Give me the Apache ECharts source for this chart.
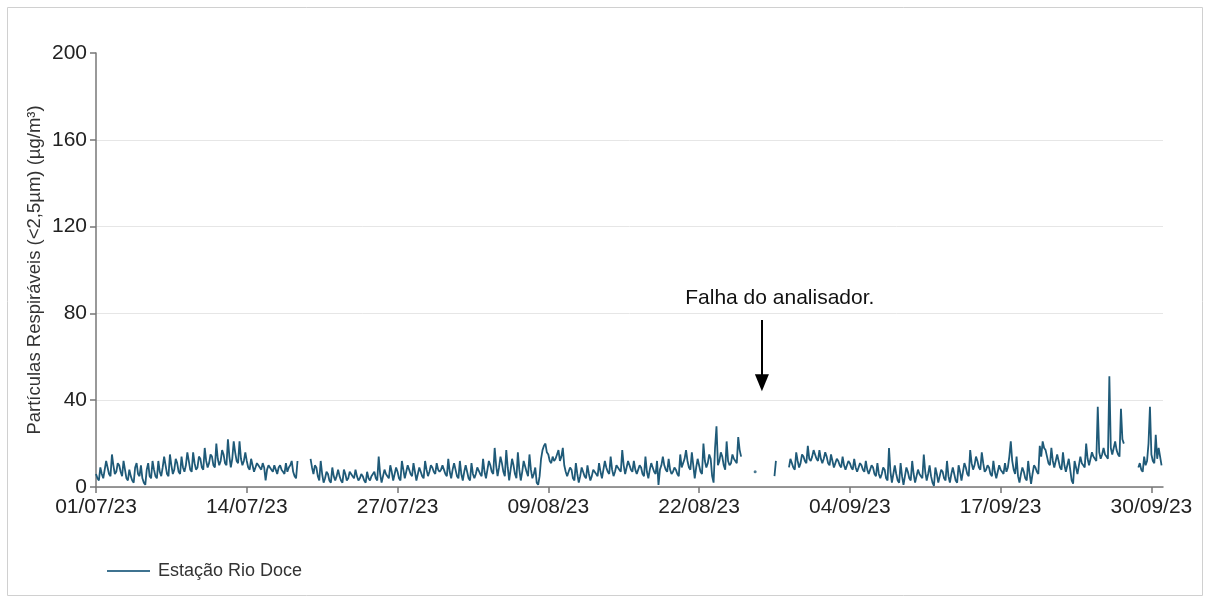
<!DOCTYPE html>
<html><head><meta charset="utf-8">
<script src="https://cdn.jsdelivr.net/npm/echarts@6/dist/echarts.min.js"></script>
<style>html,body{margin:0;padding:0;background:#fff}#c{width:1211px;height:603px}</style>
</head><body><div id="c"></div>
<script>
// Hours counted from 01/07/23 00:00; one reading every 3 hours (00,03,06,09,12,15,18,21)
const stepHours = 3;
const seriesName = 'Estação Rio Doce';
const pm25 = [
  6, 4, 3, 9, 6, 4, 8, 12,          // 01/07
  9, 6, 5, 15, 10, 6, 7, 11,        // 02/07
  10, 7, 5, 12, 8, 4, 3, 8,         // 03/07
  5, 3, 2, 9, 11, 6, 5, 10,         // 04/07
  4, 2, 1, 8, 11, 5, 4, 12,         // 05/07
  8, 5, 4, 12, 7, 5, 9, 14,         // 06/07
  10, 6, 5, 15, 10, 6, 8, 13,       // 07/07
  11, 7, 6, 14, 9, 7, 10, 16,       // 08/07
  12, 8, 7, 16, 11, 8, 9, 14,       // 09/07
  13, 9, 8, 18, 12, 9, 11, 15,      // 10/07
  14, 10, 9, 20, 13, 10, 12, 17,    // 11/07
  15, 11, 10, 22, 14, 9, 13, 21,    // 12/07
  16, 12, 11, 21, 13, 10, 12, 16,   // 13/07
  12, 9, 8, 13, 10, 7, 9, 11,       // 14/07
  10, 9, 8, 11, 9, 3, 8, 10,        // 15/07
  9, 8, 7, 10, 8, 6, 9, 10,         // 16/07
  8, 7, 6, 11, 7, 9, 10, 12,        // 17/07
  7, 5, 4, 12, null, null, null, null,   // 18/07
  null, null, null, null, 13, 9, 6, 10,  // 19/07
  9, 5, 3, 12, 6, 2, 4, 7,          // 20/07
  6, 3, 2, 9, 5, 3, 5, 8,           // 21/07
  5, 3, 2, 8, 6, 3, 4, 7,           // 22/07
  6, 5, 4, 8, 5, 3, 4, 6,           // 23/07
  5, 3, 2, 7, 4, 3, 5, 6,           // 24/07
  7, 4, 3, 14, 6, 2, 5, 8,          // 25/07
  6, 5, 4, 10, 7, 3, 6, 9,          // 26/07
  7, 4, 3, 12, 8, 4, 7, 10,         // 27/07
  8, 6, 5, 11, 7, 3, 6, 9,          // 28/07
  7, 5, 4, 12, 8, 5, 7, 10,         // 29/07
  9, 7, 6, 11, 8, 7, 8, 10,         // 30/07
  8, 6, 5, 13, 7, 4, 8, 11,         // 31/07
  8, 5, 4, 12, 6, 3, 7, 10,         // 01/08
  7, 4, 3, 11, 6, 4, 6, 9,          // 02/08
  9, 6, 5, 13, 7, 4, 8, 12,         // 03/08
  10, 7, 6, 18, 10, 5, 9, 14,       // 04/08
  11, 7, 5, 17, 9, 3, 8, 13,        // 05/08
  10, 6, 4, 16, 8, 3, 7, 12,        // 06/08
  12, 7, 5, 15, 8, 4, 6, 9,         // 07/08
  2, 1, 5, 13, 17, 19, 20, 16,      // 08/08
  15, 12, 11, 14, 12, 13, 15, 17,   // 09/08
  12, 14, 18, 10, 7, 5, 7, 9,       // 10/08
  8, 4, 3, 11, 6, 2, 5, 9,          // 11/08
  7, 5, 4, 10, 6, 3, 5, 8,          // 12/08
  8, 6, 5, 11, 7, 4, 8, 12,         // 13/08
  9, 7, 6, 14, 8, 5, 7, 10,         // 14/08
  9, 8, 7, 17, 10, 6, 9, 12,        // 15/08
  10, 8, 7, 12, 8, 6, 8, 10,        // 16/08
  9, 6, 5, 14, 7, 4, 8, 11,         // 17/08
  9, 7, 6, 12, 1, 8, 10, 14,        // 18/08
  10, 8, 7, 13, 8, 6, 7, 9,         // 19/08
  8, 6, 5, 15, 9, 11, 13, 17,       // 20/08
  12, 9, 8, 16, 10, 4, 9, 13,       // 21/08
  10, 7, 6, 20, 12, 9, 11, 15,      // 22/08
  13, 5, 2, 18, 28, 10, 12, 16,     // 23/08
  14, 10, 8, 21, 12, 10, 11, 15,    // 24/08
  13, 12, 11, 23, 17, 14, null, null,          // 25/08
  null, null, null, null, null, null, null, null, // 26/08
  null, null, null, null, null, null, null, null, // 27/08
  null, null, null, null, 5, 12, null, null,   // 28/08
  null, null, null, null, null, null, 9, 13,   // 29/08
  11, 9, 8, 16, 12, 9, 11, 15,      // 30/08
  14, 12, 11, 19, 13, 12, 14, 17,   // 31/08
  15, 13, 12, 17, 13, 11, 13, 16,   // 01/09
  14, 11, 10, 15, 12, 9, 11, 13,    // 02/09
  12, 10, 9, 14, 10, 8, 10, 12,     // 03/09
  11, 9, 8, 13, 9, 7, 9, 11,        // 04/09
  10, 8, 7, 12, 8, 6, 8, 10,        // 05/09
  9, 6, 5, 11, 6, 4, 6, 9,          // 06/09
  8, 4, 3, 18, 7, 2, 6, 10,         // 07/09
  6, 3, 2, 11, 5, 1, 5, 9,          // 08/09
  7, 4, 3, 12, 6, 2, 5, 8,          // 09/09
  6, 5, 4, 15, 7, 3, 6, 10,         // 10/09
  5, 2, 0.5, 9, 6, 2, 5, 8,         // 11/09
  7, 4, 3, 12, 5, 2, 6, 9,          // 12/09
  6, 3, 2, 10, 7, 3, 7, 11,         // 13/09
  9, 6, 5, 17, 11, 8, 10, 14,       // 14/09
  12, 9, 8, 16, 11, 7, 8, 10,       // 15/09
  9, 6, 5, 12, 7, 4, 7, 10,         // 16/09
  8, 7, 6, 11, 7, 9, 14, 21,        // 17/09
  12, 8, 6, 14, 5, 2, 6, 9,         // 18/09
  7, 4, 3, 12, 6, 1.5, 6, 10,       // 19/09
  9, 7, 6, 19, 14, 21, 18, 17,      // 20/09
  14, 11, 10, 18, 12, 9, 12, 15,    // 21/09
  12, 9, 8, 16, 10, 7, 10, 13,      // 22/09
  8, 3, 1.5, 12, 9, 6, 10, 14,      // 23/09
  11, 10, 9, 20, 13, 10, 13, 16,    // 24/09
  14, 13, 12, 37, 16, 13, 15, 18,   // 25/09
  15, 14, 13, 51, 18, 15, 18, 21,   // 26/09
  17, 15, 14, 36, 22, 20, null, null,          // 27/09
  null, null, null, null, null, null, null, 9, // 28/09
  11, 8, 7, 14, 10, 12, 20, 37,     // 29/09
  15, 12, 11, 24, 13, 18, 14, 10    // 30/09
];
// isolated single reading during the analyser failure: [hour, value]
const isolatedReadings = [[1364, 7]];

const xTickHours = [0, 312, 624, 936, 1248, 1560, 1872, 2184];
const xTickLabels = ['01/07/23', '14/07/23', '27/07/23', '09/08/23', '22/08/23', '04/09/23', '17/09/23', '30/09/23'];
const xMaxHour = 2208;
const yMin = 0, yMax = 200, yStep = 40;
const yTitle = 'Partículas Respiráveis (<2,5µm) (µg/m³)';
const noteText = 'Falha do analisador.';
const notePoint = [1415, 87];
const arrowFrom = [1378, 77];
const arrowTo = [1378, 48];

const lineColor = '#1f5a78';
const font = "'Liberation Sans', Arial, sans-serif";
const data = pm25.map((v, i) => [i * stepHours, v]);

const chart = echarts.init(document.getElementById('c'), null, {renderer: 'canvas'});
chart.setOption({
  animation: false,
  backgroundColor: '#fff',
  textStyle: {fontFamily: font},
  graphic: [{
    type: 'rect', silent: true,
    shape: {x: 7.5, y: 7.5, width: 1195, height: 588},
    style: {fill: 'none', stroke: '#d0d0d0', lineWidth: 1}
  }],
  grid: {left: 96, right: 48, top: 53, bottom: 116, containLabel: false},
  legend: {
    data: [{name: seriesName, icon: 'rect'}], left: 102, top: 557, itemWidth: 43, itemHeight: 2,
    itemStyle: {color: '#3f7390'},
    textStyle: {fontFamily: font, fontSize: 18, color: '#333', padding: [0, 0, 0, 3]}
  },
  xAxis: {
    type: 'value', min: 0, max: xMaxHour,
    axisLine: {show: true, lineStyle: {color: '#777', width: 1.5}},
    axisTick: {show: true, length: 6, lineStyle: {color: '#777', width: 1.5}, customValues: xTickHours},
    axisLabel: {
      customValues: xTickHours, margin: 10, fontSize: 21, color: '#222', fontFamily: font,
      formatter: v => { const i = xTickHours.indexOf(v); return i >= 0 ? xTickLabels[i] : ''; }
    },
    splitLine: {show: false}
  },
  yAxis: {
    type: 'value', min: yMin, max: yMax, interval: yStep,
    name: yTitle, nameLocation: 'middle', nameGap: 52, nameMoveOverlap: false,
    nameTextStyle: {fontFamily: font, fontSize: 18.5, color: '#333'},
    axisLine: {show: true, lineStyle: {color: '#777', width: 1.5}},
    axisTick: {show: true, length: 6, lineStyle: {color: '#777', width: 1.5}},
    axisLabel: {margin: 9, fontSize: 21, color: '#222', fontFamily: font},
    splitLine: {show: true, showMaxLine: false, lineStyle: {color: '#e6e6e6', width: 1}}
  },
  series: [
    {
      name: seriesName, type: 'line', data: data, symbol: 'none', connectNulls: false,
      lineStyle: {color: lineColor, width: 1.8}, itemStyle: {color: lineColor},
      markLine: {
        silent: true, symbol: ['none', 'triangle'], symbolSize: [14, 17],
        lineStyle: {color: '#000', width: 2, type: 'solid'}, label: {show: false},
        data: [[{coord: arrowFrom}, {coord: arrowTo}]]
      },
      markPoint: {
        silent: true, symbol: 'circle', symbolSize: 1, itemStyle: {color: 'rgba(0,0,0,0)'},
        label: {show: true, position: 'inside', formatter: noteText, color: '#111', fontSize: 21, fontFamily: font},
        data: [{coord: notePoint}]
      }
    },
    {
      name: 'isolated', type: 'scatter', data: isolatedReadings, symbolSize: 3,
      itemStyle: {color: lineColor}
    }
  ]
});
</script>
</body></html>
